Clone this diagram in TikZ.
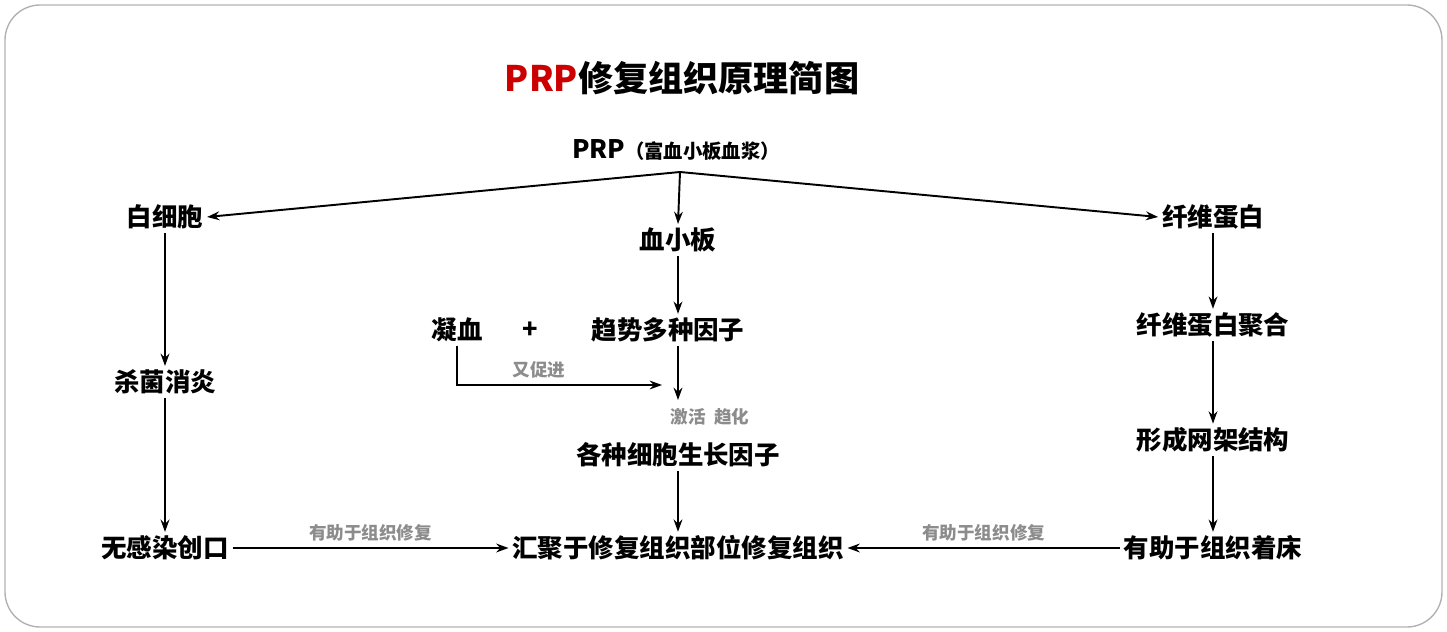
\documentclass[tikz,border=0pt]{standalone}
\usepackage{fontspec}
\setmainfont{Noto Sans CJK SC}
\usetikzlibrary{arrows.meta}
\tikzset{
    box/.style = {font=\fontsize{14.5pt}{16pt}\selectfont\bfseries, inner sep=2pt},
    note/.style = {font=\fontsize{10pt}{12pt}\selectfont\bfseries, text=gray!90},
    edgen/.style = {-{Stealth[length=7pt,width=5pt]}, line width=1.1pt}
}
\begin{document}
\begin{tikzpicture}[x=0.02cm,y=-0.02cm]
  \useasboundingbox (0,0) rectangle (1447,632);
  \draw[gray!60, line width=0.8pt, rounded corners=20pt] (5,5) rectangle (1442,627);
  \node (title) at (682,78) [font=\fontsize{20pt}{22pt}\selectfont\bfseries] {\textcolor{red!80!black}{PRP}修复组织原理简图};
  \node (prp) at (676,150) [box] {PRP{\fontsize{11pt}{12pt}\selectfont（富血小板血浆）}};
  \coordinate (split) at (680,172);
  \node (wbc) at (165,217) [box] {白细胞};
  \node (plt) at (678,240) [box] {血小板};
  \node (fib) at (1213,217) [box] {纤维蛋白};
  \node (ning) at (457,330) [box] {凝血};
  \node (plus) at (530,330) [box] {+};
  \node (qushi) at (668,330) [box] {趋势多种因子};
  \node (sha) at (165,382) [box] {杀菌消炎};
  \node (fibagg) at (1213,325) [box] {纤维蛋白聚合};
  \node (jihuo) at (710,417) [note] {激活\ \ 趋化};
  \node (growth) at (678,455) [box] {各种细胞生长因子};
  \node (mesh) at (1213,440) [box] {形成网架结构};
  \node (wgr) at (165,548) [box] {无感染创口};
  \node (huiju) at (678,548) [box] {汇聚于修复组织部位修复组织};
  \node (zc) at (1213,548) [box] {有助于组织着床};
  \coordinate (cu) at (662,385);
  % top split
  \draw[edgen] (split) -- (wbc.east);
  \draw[edgen] (split) -- (plt.north);
  \draw[edgen] (split) -- (fib.west);
  % middle column
  \draw[edgen] (plt.south) -- (qushi.north -| plt.south);
  \draw[edgen] (ning.south) |- node[note, above, pos=0.7] {又促进} (cu);
  \draw[edgen] (qushi.south -| plt.south) -- (678,400);
  \draw[edgen] (growth.south) -- (huiju.north);
  % left column
  \draw[edgen] (wbc.south) -- (sha.north);
  \draw[edgen] (sha.south) -- (wgr.north);
  \draw[edgen] (wgr.east) -- node[note, above] {有助于组织修复} (huiju.west);
  % right column
  \draw[edgen] (fib.south) -- (fibagg.north);
  \draw[edgen] (fibagg.south) -- (mesh.north);
  \draw[edgen] (mesh.south) -- (zc.north);
  \draw[edgen] (zc.west) -- node[note, above] {有助于组织修复} (huiju.east);
\end{tikzpicture}
\end{document}
